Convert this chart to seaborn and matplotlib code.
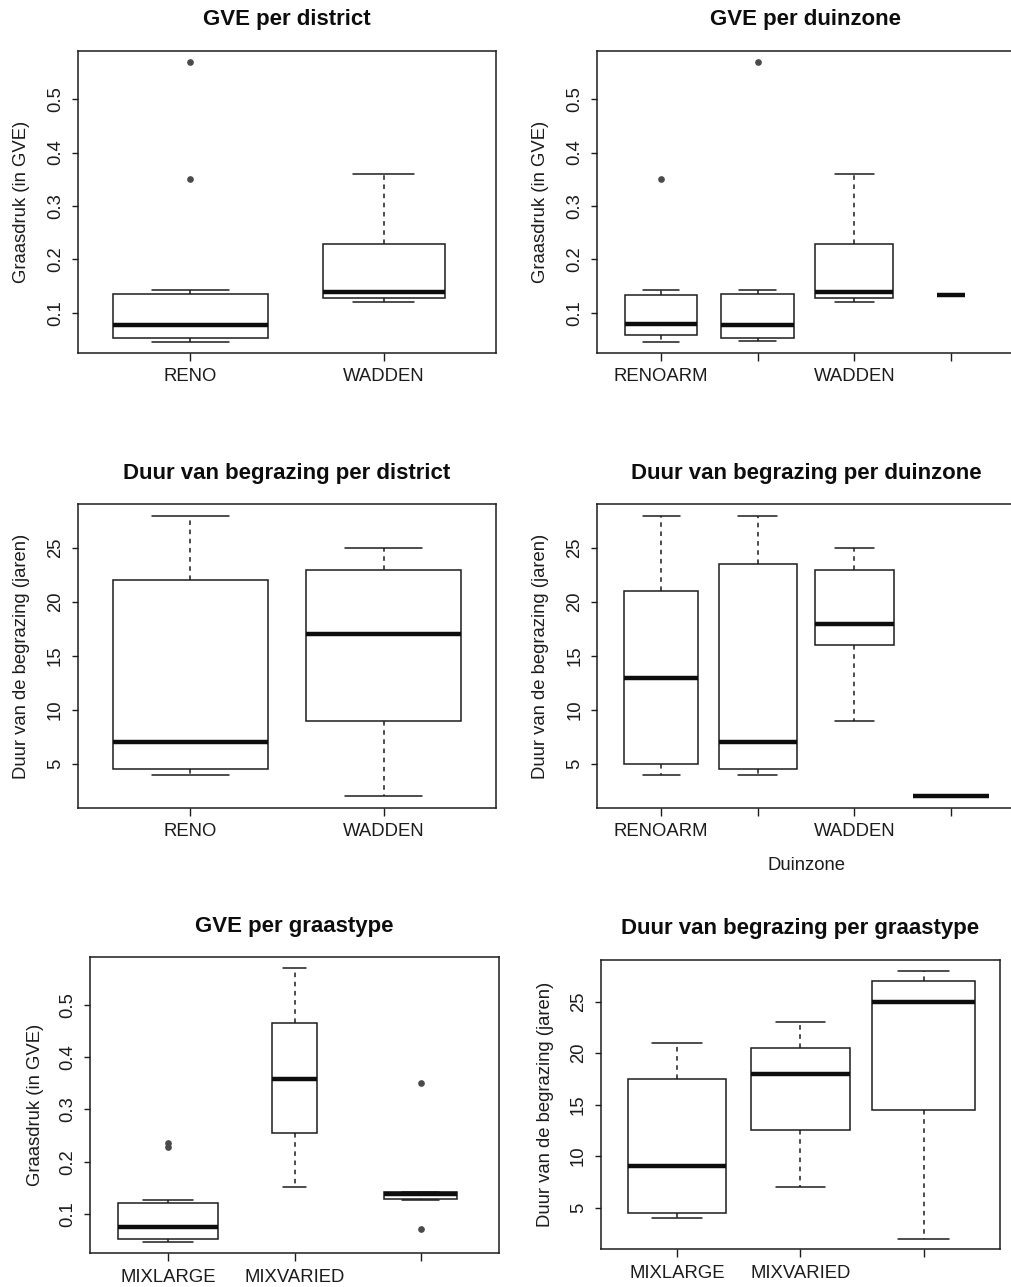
import numpy as np
import pandas as pd
import matplotlib
matplotlib.use("Agg")
import matplotlib.pyplot as plt
import seaborn as sns

# ---- data ----
# GVE per district
district = ["RENO", "WADDEN"]
gve_reno = [0.046, 0.053, 0.053, 0.053, 0.078, 0.078, 0.078, 0.135, 0.135, 0.135, 0.143, 0.35, 0.57]
gve_wadden = [0.12, 0.128, 0.14, 0.229, 0.36]

# GVE per duinzone
duinzone = ["RENOARM", "zone2", "WADDEN", "zone4"]
duinzone_labels = ["RENOARM", "", "WADDEN", ""]
gve_renoarm = [0.046, 0.0596, 0.0596, 0.079, 0.079, 0.133, 0.133, 0.143, 0.35]
gve_zone2 = [0.047, 0.053, 0.053, 0.077, 0.077, 0.135, 0.135, 0.143, 0.57]
gve_zone3 = [0.12, 0.128, 0.14, 0.229, 0.36]
gve_zone4 = [0.133]

# Duur van begrazing per district
duur_reno = [4, 4.5, 7, 22, 28]
duur_wadden = [2, 9, 17, 23, 25]

# Duur van begrazing per duinzone
duur_renoarm = [4, 5, 13, 21, 28]
duur_zone2 = [4, 4.5, 7, 23.5, 28]
duur_zone3 = [9, 16, 18, 23, 25]
duur_zone4 = [2]

# per graastype
graastype = ["MIXLARGE", "MIXVARIED", "type3"]
graastype_labels = ["MIXLARGE", "MIXVARIED", ""]
gve_mixlarge = [0.046, 0.052, 0.052, 0.052, 0.076, 0.076, 0.076, 0.122, 0.122, 0.122, 0.127, 0.229, 0.236]
gve_mixvaried = [0.151, 0.255, 0.359, 0.465, 0.57]
gve_type3 = [0.0724, 0.127, 0.129, 0.138, 0.138, 0.143, 0.143, 0.143, 0.35]
duur_mixlarge = [4, 4.5, 9, 17.5, 21]
duur_mixvaried = [7, 12.5, 18, 20.5, 23]
duur_type3 = [2, 14.5, 25, 27, 28]

gve_ticks = [0.1, 0.2, 0.3, 0.4, 0.5]
duur_ticks = [5, 10, 15, 20, 25]
gve_label = "Graasdruk (in GVE)"
duur_label = "Duur van de begrazing (jaren)"

# ---- style ----
sns.set_theme(style="white")
plt.rcParams["font.family"] = ["Liberation Sans", "DejaVu Sans"]
INK = "#1c1c1c"
W, H = 1011, 1287

fig = plt.figure(figsize=(W / 100, H / 100), dpi=100)


def px_axes(left, right, top, bottom):
    return fig.add_axes([left / W, 1 - bottom / H, (right - left) / W, (bottom - top) / H])


def panel(box, groups, labels, values, widths, title, ylabel, yticks, ylabel_x, xlabel=None):
    left, right, top, bottom = box
    ax = px_axes(left, right, top, bottom)
    for g, vals, w in zip(groups, values, widths):
        df = pd.DataFrame({"groep": g, "waarde": vals})
        sns.boxplot(data=df, x="groep", y="waarde", order=groups, width=w, ax=ax,
                    color="white", linecolor=INK, linewidth=1.1, whis=1.5,
                    medianprops=dict(linewidth=3.2, color="#0d0d0d"),
                    whiskerprops=dict(linestyle=(0, (3, 3))),
                    flierprops=dict(marker="o", markersize=3.8, markerfacecolor="#4a4a4a",
                                    markeredgecolor="#4a4a4a"))
    n = len(groups)
    ax.set_xlim(-0.5 - 0.04 * n, n - 0.5 + 0.04 * n)
    allv = np.concatenate([np.asarray(v, float) for v in values])
    rng = allv.max() - allv.min()
    ax.set_ylim(allv.min() - 0.04 * rng, allv.max() + 0.04 * rng)
    ax.set_xticks(range(n))
    ax.set_xticklabels(labels)
    ax.set_yticks(yticks)
    ax.set_yticklabels([f"{t:g}" for t in yticks])
    ax.tick_params(axis="x", length=5.5, width=1.0, color=INK, pad=5.5,
                   labelsize=13.3, labelcolor=INK, bottom=True)
    ax.tick_params(axis="y", length=4, width=1.0, color=INK, pad=6,
                   labelsize=13.3, labelcolor=INK, left=True, labelrotation=90)
    for lab in ax.get_yticklabels():
        lab.set_va("center")
    for s in ax.spines.values():
        s.set_visible(True)
        s.set_color(INK)
        s.set_linewidth(1.1)
    ax.set_title(title, fontsize=16, fontweight="bold", color="#0d0d0d", pad=18.5)
    ax.set_ylabel(ylabel, fontsize=13.3, color=INK)
    ax.yaxis.set_label_coords((ylabel_x + 2 - left) / (right - left), 0.5)
    if xlabel:
        ax.set_xlabel(xlabel, fontsize=13.3, color=INK)
        ax.xaxis.set_label_coords(0.5, (bottom - 856.5) / (bottom - top))
    else:
        ax.set_xlabel("")
    return ax


panel((78, 496, 50.5, 353), district, district, [gve_reno, gve_wadden], [0.8, 0.633],
      "GVE per district", gve_label, gve_ticks, 27.5)
panel((597, 1015, 50.5, 353), duinzone, duinzone_labels,
      [gve_renoarm, gve_zone2, gve_zone3, gve_zone4], [0.75, 0.756, 0.807, 0.29],
      "GVE per duinzone", gve_label, gve_ticks, 546.7)
panel((78, 496, 504.3, 807.7), district, district, [duur_reno, duur_wadden], [0.8, 0.8],
      "Duur van begrazing per district", duur_label, duur_ticks, 28.3)
panel((597.3, 1015, 504.3, 807.7), duinzone, duinzone_labels,
      [duur_renoarm, duur_zone2, duur_zone3, duur_zone4], [0.766, 0.807, 0.807, 0.78],
      "Duur van begrazing per duinzone", duur_label, duur_ticks, 546.7, xlabel="Duinzone")
panel((90, 499, 957.3, 1253.3), graastype, graastype_labels,
      [gve_mixlarge, gve_mixvaried, gve_type3], [0.79, 0.357, 0.58],
      "GVE per graastype", gve_label, gve_ticks, 41.7)
panel((600.7, 1000, 960, 1249.3), graastype, graastype_labels,
      [duur_mixlarge, duur_mixvaried, duur_type3], [0.8, 0.8, 0.83],
      "Duur van begrazing per graastype", duur_label, duur_ticks, 552.3)

fig.savefig("out.png", dpi=100, facecolor="white")
